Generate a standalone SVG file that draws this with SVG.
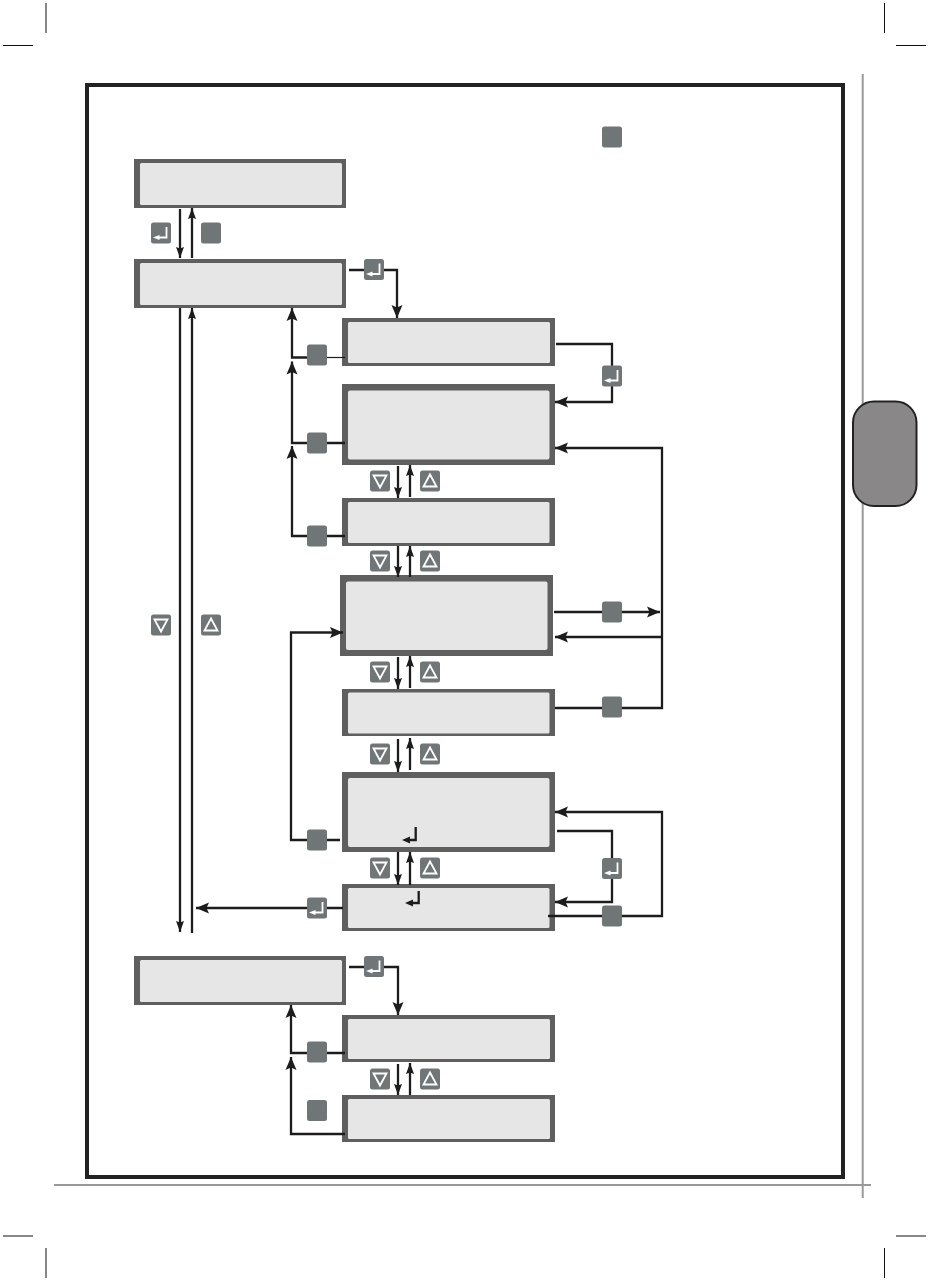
<svg xmlns="http://www.w3.org/2000/svg" width="930" height="1281" viewBox="0 0 930 1281">
<style>
.lcd{fill:#e6e6e6;stroke:none}
.bez{fill:#5f5f5f}
.c{fill:none;stroke:#1c1c1c;stroke-width:2.300}
.t{fill:none;stroke:#1c1c1c;stroke-width:1.200}
.a{marker-end:url(#ah)}
.as{marker-end:url(#as)}
.btn{fill:#707577}
.g{fill:none;stroke:#fff;stroke-width:1.800}
.crop{stroke:#111;stroke-width:1;fill:none}
</style>
<defs>
<marker id="ah" markerUnits="userSpaceOnUse" markerWidth="14" markerHeight="14" refX="13" refY="7" orient="auto"><path d="M0 1.500L13 7L0 12.500L2.500 7Z" fill="#1c1c1c"/></marker>
<marker id="as" markerUnits="userSpaceOnUse" markerWidth="12" markerHeight="10" refX="11" refY="5" orient="auto"><path d="M0 1L11 5L0 9L1.500 5Z" fill="#1c1c1c"/></marker>
<g id="blank"><rect x="-10" y="-10.500" width="20" height="21" rx="2.500" class="btn"/></g>
<g id="enter"><rect x="-10" y="-10.500" width="20" height="21" rx="2.500" class="btn"/><path d="M5.500 -6V4.500H-3" class="g"/><path d="M-8 4.500L-1.500 2V7Z" fill="#fff"/></g>
<g id="down"><rect x="-10" y="-10.500" width="20" height="21" rx="2.500" class="btn"/><path d="M-6.500 -5.500H6.500L0 6.500Z" class="g"/></g>
<g id="up"><rect x="-10" y="-10.500" width="20" height="21" rx="2.500" class="btn"/><path d="M-6.500 5.500H6.500L0 -6.500Z" class="g"/></g>
</defs>
<rect width="930" height="1281" fill="#fff"/>
<g id="crop-marks" class="crop">
<path d="M46 3V33M3 45.500H33M884.500 3V33M896 45.500H926M46 1248V1278M3 1236H33M884.500 1248V1278M896 1236H926"/>
</g>
<g id="page">
<path d="M862.700 74V1198M54 1185H871" fill="none" stroke="#999" stroke-width="2"/>
<rect x="87" y="85" width="756" height="1092" fill="none" stroke="#222" stroke-width="4"/>
<rect x="853" y="401.500" width="63.500" height="104.500" rx="21" fill="#8a8788" stroke="#222" stroke-width="2"/>
</g>
<g id="box1"><rect class="bez" x="134" y="159" width="212" height="49"/><rect class="lcd" x="140" y="163" width="202" height="42" rx="1.500"/></g>
<g id="box2"><rect class="bez" x="134" y="259" width="212" height="49"/><rect class="lcd" x="140" y="263" width="202" height="42" rx="1.500"/></g>
<g id="box3"><rect class="bez" x="342" y="318" width="213" height="48"/><rect class="lcd" x="348" y="322" width="202" height="41" rx="1.500"/></g>
<g id="box4"><rect class="bez" x="342" y="384" width="213" height="81"/><rect class="lcd" x="348" y="390.500" width="201.500" height="69" rx="2"/></g>
<g id="box5"><rect class="bez" x="342" y="498" width="213" height="48"/><rect class="lcd" x="348" y="502" width="201.500" height="41" rx="1.500"/></g>
<g id="box6"><rect class="bez" x="340" y="575" width="213" height="81"/><rect class="lcd" x="346" y="581.500" width="201.500" height="68.500" rx="2"/></g>
<g id="box7"><rect class="bez" x="342" y="689" width="213" height="47"/><rect class="lcd" x="348" y="692.500" width="201.500" height="41" rx="1.500"/></g>
<g id="box8"><rect class="bez" x="342" y="772" width="213" height="80"/><rect class="lcd" x="348" y="778" width="201.500" height="69" rx="2"/><path class="c" d="M415.700 827V840H406"/><path d="M402 840L410 836.500V843.500Z" fill="#1c1c1c"/></g>
<g id="box9"><rect class="bez" x="342" y="884" width="213" height="47"/><rect class="lcd" x="348" y="888" width="201.500" height="40" rx="1.500"/><path class="c" d="M418.700 891V903H409"/><path d="M405 903L413 899.500V906.500Z" fill="#1c1c1c"/></g>
<g id="box10"><rect class="bez" x="134" y="956" width="212" height="49"/><rect class="lcd" x="140" y="960" width="202" height="42" rx="1.500"/></g>
<g id="box11"><rect class="bez" x="342" y="1015" width="213" height="47"/><rect class="lcd" x="348" y="1019" width="202" height="40" rx="1.500"/></g>
<g id="box12"><rect class="bez" x="342" y="1095" width="213" height="47"/><rect class="lcd" x="348" y="1099" width="202" height="40" rx="1.500"/></g>
<g id="connectors">
<path class="c as" d="M180 209V258"/><path class="c as" d="M192 258V208"/>
<path class="c as" d="M180 308V932"/><path class="c as" d="M192 933V308"/>
<path class="c a" d="M349 270H397V318"/>
<path class="c a" d="M317 357.500H292V308"/><path class="t" d="M317 357.500H345"/>
<path class="c a" d="M345 443H292V361.500"/>
<path class="c a" d="M345 536H292V446"/>
<path class="c a" d="M556 344H612V402H555"/>
<path class="c a" d="M555 708H662V448H555"/>
<path class="c a" d="M554 612H660"/>
<path class="c a" d="M662 637H555"/>
<path class="c a" d="M340 840H291V632.500H343"/>
<path class="c a" d="M557 831H612V902H555"/>
<path class="c a" d="M548 916H662V812H555"/>
<path class="c a" d="M343 908H196"/>
<path class="c a" d="M349 967H398V1015"/>
<path class="c a" d="M345 1053H291V1005"/>
<path class="c a" d="M345 1134H291V1057"/>
<path class="c as" d="M398 466V498"/><path class="c as" d="M410 497V465"/>
<path class="c as" d="M398 546V577"/><path class="c as" d="M410 577V546"/>
<path class="c as" d="M398 657V689"/><path class="c as" d="M410 688V656"/>
<path class="c as" d="M398 739V772"/><path class="c as" d="M410 770V738"/>
<path class="c as" d="M398 852V885"/><path class="c as" d="M410 885V852"/>
<path class="c as" d="M398 1064V1095"/><path class="c as" d="M410 1095V1063"/>
</g>
<g id="buttons">
<use href="#blank" x="612" y="137"/>
<use href="#enter" x="161" y="233"/><use href="#blank" x="211" y="233"/>
<use href="#enter" x="374" y="269.500"/><use href="#blank" x="317" y="355"/>
<use href="#enter" x="612" y="376"/><use href="#blank" x="317" y="443"/>
<use href="#down" x="380" y="481"/><use href="#up" x="430" y="481"/>
<use href="#blank" x="317" y="536"/>
<use href="#down" x="380" y="561"/><use href="#up" x="430" y="561"/>
<use href="#blank" x="612" y="612"/>
<use href="#down" x="161" y="625"/><use href="#up" x="211" y="625"/>
<use href="#down" x="380" y="672"/><use href="#up" x="430" y="672"/>
<use href="#blank" x="612" y="707"/>
<use href="#down" x="380" y="754"/><use href="#up" x="430" y="754"/>
<use href="#blank" x="317" y="840"/>
<use href="#down" x="380" y="868"/><use href="#up" x="430" y="868"/>
<use href="#enter" x="612" y="868.500"/>
<use href="#enter" x="317" y="908"/><use href="#blank" x="612" y="916"/>
<use href="#enter" x="374" y="966.500"/><use href="#blank" x="317" y="1052"/>
<use href="#down" x="380" y="1079"/><use href="#up" x="430" y="1079"/>
<use href="#blank" x="317" y="1110.500"/>
</g>
</svg>
